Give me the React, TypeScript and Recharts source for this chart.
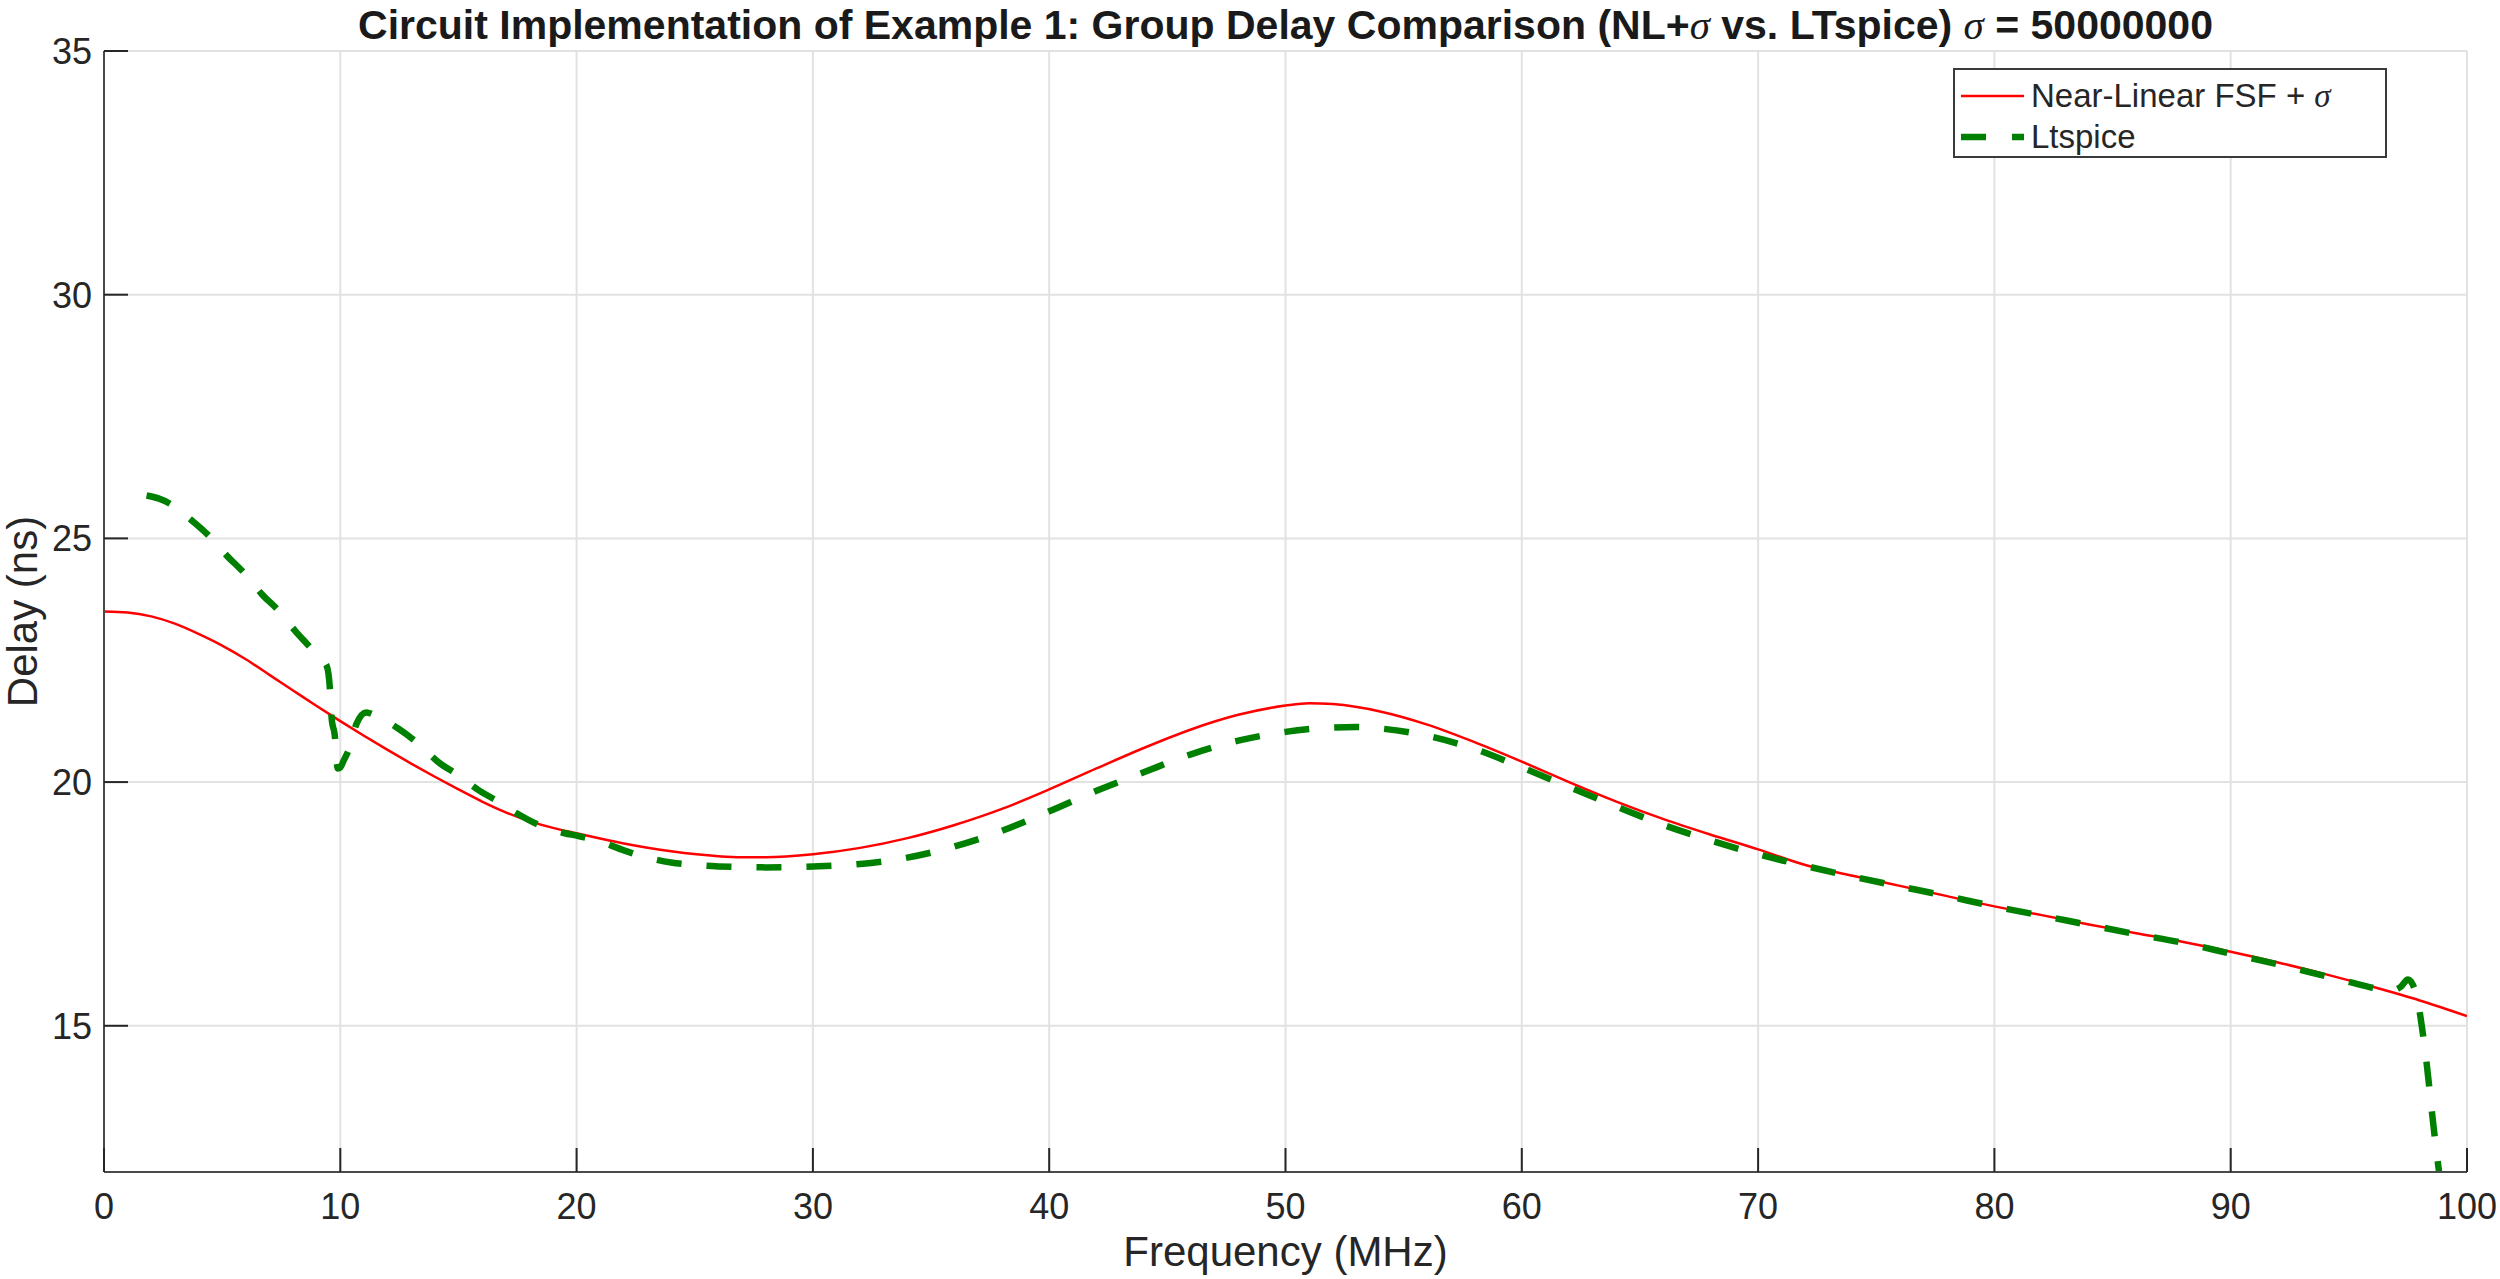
import React from 'react';
import { LineChart, Line, XAxis, YAxis, CartesianGrid, Legend } from 'recharts';

// Near-Linear FSF + sigma (red)
const nlFreq = [0, 1, 2, 3, 4, 5, 6, 7, 8, 9, 10, 11, 12, 13, 14, 15, 16, 17, 18, 19, 20, 22, 24, 26, 27, 28, 30, 32, 34, 36, 38, 40, 42, 44, 46, 48, 50, 51, 52, 54, 56, 58, 60, 62, 64, 66, 68, 70, 72, 74, 76, 78, 80, 82, 84, 86, 88, 90, 92, 94, 96, 98, 100];
const nlDelay = [23.5, 23.48, 23.4, 23.25, 23.04, 22.8, 22.52, 22.2, 21.88, 21.56, 21.25, 20.95, 20.66, 20.38, 20.11, 19.85, 19.6, 19.38, 19.2, 19.06, 18.95, 18.74, 18.58, 18.48, 18.46, 18.46, 18.52, 18.65, 18.85, 19.12, 19.45, 19.85, 20.28, 20.7, 21.08, 21.38, 21.57, 21.62, 21.6, 21.45, 21.18, 20.82, 20.42, 20.0, 19.6, 19.24, 18.92, 18.62, 18.3, 18.08, 17.87, 17.66, 17.45, 17.27, 17.08, 16.9, 16.72, 16.52, 16.3, 16.06, 15.8, 15.52, 15.2];

// Ltspice (green dashed)
const ltFreq = [1.8, 2.3, 2.8, 3.64, 4.49, 5.19, 5.97, 6.67, 7.38, 8.08, 8.79, 9.2, 9.42, 9.56, 9.63, 9.78, 9.84, 9.9, 10.0, 10.15, 10.38, 10.69, 11.1, 11.47, 12.45, 13.3, 14.15, 15.0, 15.9, 16.76, 17.5, 18.5, 19.5, 20, 21, 22, 23, 24, 25, 26, 28, 30, 32, 34, 36, 38, 40, 42, 44, 46, 48, 50, 52, 53, 54, 56, 58, 60, 62, 64, 66, 68, 70, 72, 74, 76, 78, 80, 82, 84, 86, 88, 90, 92, 94, 95, 96, 96.8, 97.2, 97.5, 97.7, 97.9, 98.1, 98.3, 98.5, 98.7, 98.9, 99.1];
const ltDelay = [25.88, 25.82, 25.71, 25.4, 25.03, 24.65, 24.27, 23.86, 23.52, 23.11, 22.73, 22.5, 22.39, 21.92, 21.33, 20.89, 20.45, 20.28, 20.3, 20.45, 20.69, 21.2, 21.43, 21.37, 21.1, 20.79, 20.41, 20.14, 19.82, 19.58, 19.35, 19.1, 18.95, 18.9, 18.78, 18.6, 18.45, 18.35, 18.3, 18.27, 18.25, 18.27, 18.32, 18.45, 18.68, 19.0, 19.4, 19.82, 20.2, 20.57, 20.85, 21.03, 21.12, 21.13, 21.1, 20.95, 20.68, 20.3, 19.9, 19.5, 19.12, 18.8, 18.52, 18.28, 18.06, 17.86, 17.66, 17.45, 17.26, 17.07, 16.88, 16.7, 16.48, 16.26, 16.02, 15.9, 15.78, 15.72, 15.8, 15.95, 15.85, 15.55, 14.95, 14.2, 13.3, 12.45, 11.7, 11.0];

const xTicks = [0, 10, 20, 30, 40, 50, 60, 70, 80, 90, 100];
const yTicks = [15, 20, 25, 30, 35];

const nlData = nlFreq.map((f, i) => ({ f, d: nlDelay[i] }));
const ltData = ltFreq.map((f, i) => ({ f, d: ltDelay[i] }));

const FONT = '"Liberation Sans", Arial, Helvetica, sans-serif';
const TEXT = '#262626';
const W = 2500;
const H = 1279;
const TOP = 51;
const PLOT_BOTTOM = 1172;

const XTick = (props: any) => {
  const { x, y, payload } = props;
  return (
    <g>
      <line x1={x} y1={y} x2={x} y2={y - 24} stroke={TEXT} strokeWidth={2} />
      <text x={x} y={y + 47} textAnchor="middle" fontSize={36} fill={TEXT}>
        {payload.value}
      </text>
    </g>
  );
};

const YTick = (props: any) => {
  const { x, y, payload } = props;
  return (
    <g>
      <line x1={x} y1={y} x2={x + 24} y2={y} stroke={TEXT} strokeWidth={2} />
      <text x={x - 12} y={y} dy="0.36em" textAnchor="end" fontSize={36} fill={TEXT}>
        {payload.value}
      </text>
    </g>
  );
};

const YLabel = () => {
  const cy = (TOP + PLOT_BOTTOM) / 2;
  return (
    <text x={37} y={cy} transform={`rotate(-90 37 ${cy})`} textAnchor="middle" fontSize={42} fill={TEXT}>
      Delay (ns)
    </text>
  );
};

const sigma = { fontFamily: '"Liberation Serif", serif', fontStyle: 'italic' as const, fontWeight: 'normal' as const };

const renderLegend = () => (
  <div
    style={{
      width: 434,
      height: 90,
      boxSizing: 'border-box',
      border: '2px solid #3a3a3a',
      background: '#fff',
      position: 'relative',
      fontFamily: FONT,
      fontSize: 33,
      color: TEXT,
    }}
  >
    <svg width={70} height={90} style={{ position: 'absolute', left: 0, top: 0 }}>
      <line x1={6} y1={26} x2={69} y2={26} stroke="#ff0000" strokeWidth={2.5} />
      <line x1={6} y1={67} x2={69} y2={67} stroke="#008000" strokeWidth={6.5} strokeDasharray="25 26" />
    </svg>
    <div style={{ position: 'absolute', left: 76, top: 26, lineHeight: '0px', whiteSpace: 'nowrap' }}>
      Near-Linear FSF + <span style={sigma}>σ</span>
    </div>
    <div style={{ position: 'absolute', left: 76, top: 67, lineHeight: '0px', whiteSpace: 'nowrap' }}>Ltspice</div>
  </div>
);

export default function App() {
  return (
    <div style={{ position: 'absolute', left: 0, top: 0, width: W, height: H, background: '#fff', fontFamily: FONT }}>
      <div
        style={{
          position: 'absolute',
          left: 104,
          width: 2363,
          top: 3,
          textAlign: 'center',
          fontWeight: 'bold',
          fontSize: 41,
          lineHeight: '44px',
          color: '#1a1a1a',
          whiteSpace: 'nowrap',
          zIndex: 2,
        }}
      >
        Circuit Implementation of Example 1: Group Delay Comparison (NL+<span style={sigma}>σ</span> vs. LTspice){' '}
        <span style={sigma}>σ</span> = 50000000
      </div>
      <LineChart
        width={W}
        height={H}
        margin={{ top: TOP, right: 33, bottom: 0, left: 0 }}
        style={{ fontFamily: FONT }}
      >
        <CartesianGrid stroke="#e2e2e2" strokeWidth={2} />
        <XAxis
          type="number"
          dataKey="f"
          domain={[0, 100]}
          ticks={xTicks}
          height={107}
          allowDataOverflow
          tickSize={0}
          tickMargin={0}
          tickLine={false}
          tick={<XTick />}
          axisLine={{ stroke: '#4a4a4a', strokeWidth: 2 }}
          label={{ value: 'Frequency (MHz)', position: 'insideBottom', offset: 13, fontSize: 42, fill: TEXT }}
        />
        <YAxis
          type="number"
          domain={[12, 35]}
          ticks={yTicks}
          width={104}
          allowDataOverflow
          tickSize={0}
          tickMargin={0}
          tickLine={false}
          tick={<YTick />}
          axisLine={{ stroke: '#4a4a4a', strokeWidth: 2 }}
          label={{ content: YLabel }}
        />
        <Legend
          layout="horizontal"
          verticalAlign="middle"
          align="center"
          content={renderLegend}
          wrapperStyle={{ left: 1953, top: 68, width: 434, height: 90 }}
        />
        <Line
          data={nlData}
          dataKey="d"
          type="monotone"
          stroke="#ff0000"
          strokeWidth={2.5}
          dot={false}
          activeDot={false}
          isAnimationActive={false}
          name="Near-Linear FSF + σ"
        />
        <Line
          data={ltData}
          dataKey="d"
          type="monotone"
          stroke="#008000"
          strokeWidth={6.5}
          strokeDasharray="25 25"
          dot={false}
          activeDot={false}
          isAnimationActive={false}
          name="Ltspice"
        />
      </LineChart>
    </div>
  );
}
